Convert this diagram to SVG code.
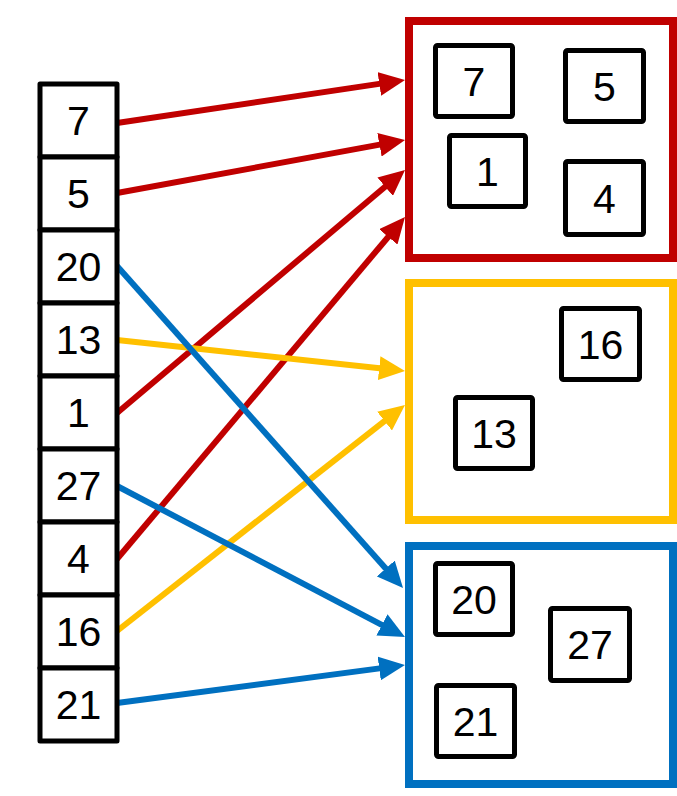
<svg xmlns="http://www.w3.org/2000/svg" width="677" height="796" viewBox="0 0 677 796">
<style>
.cell{fill:#fff;stroke:#000;stroke-width:5;stroke-linejoin:round}
.num{font-family:"Liberation Sans",Arial,sans-serif;font-size:41px;fill:#000;text-anchor:middle}
.grp{fill:#fff;stroke-width:8}
.red{stroke:#C00000}
.yel{stroke:#FFC000}
.blu{stroke:#0070C0}
.ln{fill:none;stroke-width:6}
</style>
<defs>
<marker id="ar" viewBox="0 0 26 24" markerUnits="userSpaceOnUse" markerWidth="26" markerHeight="24" refX="10" refY="12" orient="auto"><path d="M0,0 L26,12 L0,24 z" fill="#C00000"/></marker>
<marker id="ay" viewBox="0 0 26 24" markerUnits="userSpaceOnUse" markerWidth="26" markerHeight="24" refX="10" refY="12" orient="auto"><path d="M0,0 L26,12 L0,24 z" fill="#FFC000"/></marker>
<marker id="ab" viewBox="0 0 26 24" markerUnits="userSpaceOnUse" markerWidth="26" markerHeight="24" refX="10" refY="12" orient="auto"><path d="M0,0 L26,12 L0,24 z" fill="#0070C0"/></marker>
</defs>
<rect width="677" height="796" fill="#fff"/>
<ellipse cx="682" cy="664" rx="6" ry="7" fill="#E00000"/>

<g id="groupRed"><rect class="grp red" x="409" y="21" width="264" height="237"/></g>
<g id="groupYellow"><rect class="grp yel" x="409" y="283" width="264" height="237"/></g>
<g id="groupBlue"><rect class="grp blu" x="409" y="546" width="264" height="238"/></g>

<g id="connectors">
<line class="ln red" x1="117" y1="123" x2="389.2" y2="82.4" marker-end="url(#ar)"/>
<line class="ln red" x1="117" y1="193" x2="389.3" y2="142.9" marker-end="url(#ar)"/>
<line class="ln red" x1="117" y1="413" x2="392.8" y2="180.3" marker-end="url(#ar)"/>
<line class="ln red" x1="117" y1="559" x2="394.7" y2="229.2" marker-end="url(#ar)"/>
<line class="ln yel" x1="117" y1="340" x2="389.1" y2="369.3" marker-end="url(#ay)"/>
<line class="ln yel" x1="117" y1="631" x2="392.4" y2="414.9" marker-end="url(#ay)"/>
<line class="ln blu" x1="117" y1="266" x2="392.4" y2="576.0" marker-end="url(#ab)"/>
<line class="ln blu" x1="117" y1="486" x2="390.8" y2="629.6" marker-end="url(#ab)"/>
<line class="ln blu" x1="117" y1="703" x2="389.1" y2="667.1" marker-end="url(#ab)"/>
</g>

<g id="a7"><rect class="cell" x="40" y="84" width="77" height="73"/><text class="num" x="78.5" y="135">7</text></g>
<g id="a5"><rect class="cell" x="40" y="157" width="77" height="73"/><text class="num" x="78.5" y="208">5</text></g>
<g id="a20"><rect class="cell" x="40" y="230" width="77" height="73"/><text class="num" x="78.5" y="281">20</text></g>
<g id="a13"><rect class="cell" x="40" y="303" width="77" height="73"/><text class="num" x="78.5" y="354">13</text></g>
<g id="a1"><rect class="cell" x="40" y="376" width="77" height="73"/><text class="num" x="78.5" y="427">1</text></g>
<g id="a27"><rect class="cell" x="40" y="449" width="77" height="73"/><text class="num" x="78.5" y="500">27</text></g>
<g id="a4"><rect class="cell" x="40" y="522" width="77" height="73"/><text class="num" x="78.5" y="573">4</text></g>
<g id="a16"><rect class="cell" x="40" y="595" width="77" height="73"/><text class="num" x="78.5" y="646">16</text></g>
<g id="a21"><rect class="cell" x="40" y="668" width="77" height="73"/><text class="num" x="78.5" y="719">21</text></g>

<g id="r7"><rect class="cell" x="435.5" y="45.5" width="77" height="71" rx="2"/><text class="num" x="474" y="96">7</text></g>
<g id="r5"><rect class="cell" x="565.5" y="50.5" width="78" height="71" rx="2"/><text class="num" x="604.5" y="101">5</text></g>
<g id="r1"><rect class="cell" x="449.5" y="135.5" width="76" height="71" rx="2"/><text class="num" x="487.5" y="186">1</text></g>
<g id="r4"><rect class="cell" x="565.5" y="161.5" width="78" height="73" rx="2"/><text class="num" x="604.5" y="213">4</text></g>
<g id="y16"><rect class="cell" x="561.5" y="308.5" width="78" height="71" rx="2"/><text class="num" x="600.5" y="359">16</text></g>
<g id="y13"><rect class="cell" x="455.5" y="397.5" width="77" height="71" rx="2"/><text class="num" x="494" y="448">13</text></g>
<g id="b20"><rect class="cell" x="435.5" y="563.5" width="77" height="71" rx="2"/><text class="num" x="474" y="614">20</text></g>
<g id="b27"><rect class="cell" x="550.5" y="608.5" width="79" height="72" rx="2"/><text class="num" x="590" y="659">27</text></g>
<g id="b21"><rect class="cell" x="436.5" y="685.5" width="78" height="71" rx="2"/><text class="num" x="475.5" y="736">21</text></g>
</svg>
